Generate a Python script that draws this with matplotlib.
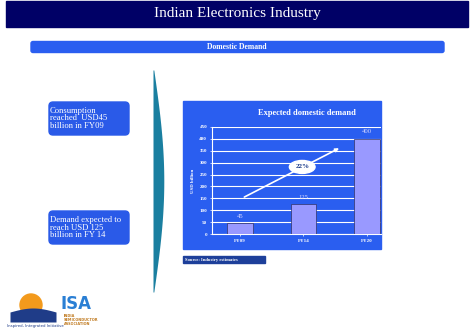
import matplotlib.pyplot as plt
import matplotlib.patches as mpatches
import numpy as np

# chart data
years = ['FY09', 'FY14', 'FY20']
demand = [45, 125, 400]
cagr_label = '22%'
yticks = list(range(0, 451, 50))

W, H = 476, 332
plt.rcParams['font.family'] = ['Liberation Serif', 'DejaVu Serif']

fig = plt.figure(figsize=(W / 100, H / 100), dpi=100)
fig.patch.set_facecolor('white')

# full-figure axes in pixel units for the slide decorations
bg = fig.add_axes([0, 0, 1, 1])
bg.set_xlim(0, W)
bg.set_ylim(H, 0)
bg.axis('off')

# header
bg.add_patch(mpatches.Rectangle((6, 1), 462, 26, color='#000066'))
bg.text(237, 13, 'Indian Electronics Industry', color='white', fontsize=11,
        ha='center', va='center')

bg.add_patch(mpatches.FancyBboxPatch((31, 41.5), 413, 11,
             boxstyle='round,pad=0,rounding_size=2', color='#2a5ef0'))
bg.text(237, 47, 'Domestic Demand', color='white', fontsize=5.5,
        fontweight='bold', ha='center', va='center')

# left call-out boxes
boxes = [(102, 'Consumption\nreached  USD45\nbillion in FY09'),
         (211, 'Demand expected to\nreach USD 125\nbillion in FY 14')]
for y0, txt in boxes:
    bg.add_patch(mpatches.FancyBboxPatch((49, y0), 80, 33,
                 boxstyle='round,pad=0,rounding_size=4', color='#2a5ae8'))
    bg.text(50, y0 + 16.5, txt, color='white', fontsize=6.2, ha='left',
            va='center', linespacing=0.95)

# teal curved divider
yy = np.linspace(70, 292, 60)
bulge = 10 * np.sin(np.pi * (yy - 70) / 222)
bg.fill_betweenx(yy, 153, 153.8 + bulge, color='#1a7fa0', lw=0)

# chart panel
bg.add_patch(mpatches.Rectangle((183, 101), 198, 148, color='#2a5ef0'))
bg.text(307, 113, 'Expected domestic demand', color='white', fontsize=6,
        fontweight='bold', ha='center', va='center')

# source box
bg.add_patch(mpatches.Rectangle((183, 256), 82, 7, color='#1d3f9a'))
bg.text(185, 259.5, 'Source: Industry estimates', color='white', fontsize=3.3,
        fontweight='bold', ha='left', va='center')

# ISA logo (approximation)
bg.add_patch(mpatches.Circle((31, 305), 11, color='#f39a1c'))
wx = np.linspace(10, 56, 40)
bg.fill_between(wx, 312 - 4 * np.sin((wx - 10) / 46 * np.pi), 322,
                color='#1f3c88', lw=0)
bg.text(61, 304, 'ISA', color='#2a7fd4', fontsize=12, fontweight='bold',
        family='DejaVu Sans', ha='left', va='center')
bg.text(64, 320, 'INDIA\nSEMICONDUCTOR\nASSOCIATION', color='#c07a20',
        fontsize=2.5, fontweight='bold', ha='left', va='center',
        family='DejaVu Sans', linespacing=0.9)
bg.text(7, 326.5, 'Inspired, Integrated Initiative', color='#1f3c88',
        fontsize=2.8, ha='left', va='center', family='DejaVu Sans')

# the bar chart
x0, x1, y_base, y_top = 212, 381, 234, 127
ax = fig.add_axes([x0 / W, 1 - y_base / H, (x1 - x0) / W, (y_base - y_top) / H])
ax.set_facecolor('#2a5ef0')
xpos = np.arange(len(years))
ax.bar(xpos, demand, width=0.4, color='#9999ff', edgecolor='#333366',
       linewidth=0.5, zorder=3)
ax.set_xlim(-0.44, 2.22)
ax.set_ylim(0, 450)
ax.set_yticks(yticks)
ax.set_xticks(xpos)
ax.set_xticklabels(years)
ax.yaxis.grid(True, color='white', linewidth=0.8, zorder=0)
ax.set_axisbelow(True)
for s in ['top', 'right']:
    ax.spines[s].set_visible(False)
for s in ['left', 'bottom']:
    ax.spines[s].set_color('white')
    ax.spines[s].set_linewidth(0.8)
ax.tick_params(colors='white', labelsize=3.6, length=1.5, width=0.5, pad=2)
for lab in ax.get_xticklabels() + ax.get_yticklabels():
    lab.set_fontweight('bold')
ax.set_ylabel('USD billion', color='white', fontsize=3.5, fontweight='bold',
              labelpad=3)
for xp, v in zip(xpos, demand):
    ax.text(xp, v + 30, str(v), color='#d8d8ff', fontsize=4.8,
            ha='center', va='center', zorder=4)

# growth arrow and CAGR label
ax.annotate('', xy=(1.6, 366), xytext=(0.03, 150),
            arrowprops=dict(arrowstyle='-|>', color='white', lw=1.2,
                            mutation_scale=5), zorder=4)
ax.text(0.98, 282, cagr_label, color='#1a3a8a', fontsize=5, fontweight='bold',
        ha='center', va='center', zorder=5,
        bbox=dict(boxstyle='ellipse,pad=0.3', fc='white', ec='white'))

fig.savefig('out.png', dpi=100)
